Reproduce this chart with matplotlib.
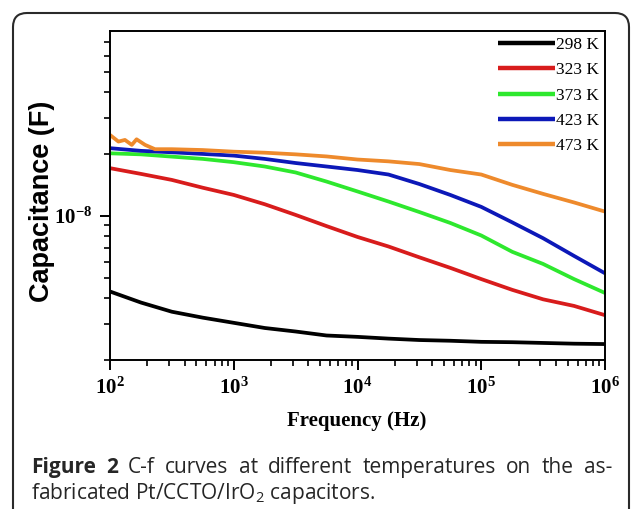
import matplotlib
matplotlib.use("Agg")
import matplotlib.pyplot as plt
from matplotlib.patches import FancyBboxPatch
from matplotlib.transforms import IdentityTransform
from matplotlib.ticker import LogLocator, FuncFormatter, NullFormatter
import numpy as np

# frequency grid (Hz)
freq = [100, 178, 316, 562, 1000, 1780, 3160, 5620, 10000, 17800, 31600,
        56200, 100000, 178000, 316000, 562000, 1000000]

# capacitance (F) for each temperature
cap_298 = [4.30e-9, 3.80e-9, 3.43e-9, 3.21e-9, 3.03e-9, 2.86e-9, 2.75e-9, 2.63e-9, 2.59e-9,
           2.54e-9, 2.50e-9, 2.48e-9, 2.45e-9, 2.44e-9, 2.42e-9, 2.40e-9, 2.39e-9]
cap_323 = [1.706e-8, 1.600e-8, 1.496e-8, 1.371e-8, 1.265e-8, 1.140e-8, 1.012e-8, 8.93e-9, 7.91e-9,
           7.11e-9, 6.30e-9, 5.60e-9, 4.94e-9, 4.38e-9, 3.94e-9, 3.66e-9, 3.30e-9]
cap_373 = [2.014e-8, 1.991e-8, 1.941e-8, 1.892e-8, 1.824e-8, 1.738e-8, 1.626e-8, 1.469e-8, 1.315e-8,
           1.175e-8, 1.045e-8, 9.25e-9, 8.04e-9, 6.70e-9, 5.85e-9, 4.94e-9, 4.23e-9]
cap_423 = [2.133e-8, 2.070e-8, 2.037e-8, 2.000e-8, 1.963e-8, 1.892e-8, 1.807e-8, 1.738e-8, 1.671e-8,
           1.589e-8, 1.429e-8, 1.265e-8, 1.107e-8, 9.31e-9, 7.80e-9, 6.40e-9, 5.27e-9]

# 473 K has some wiggles at low frequency, so its own grid
freq_473 = [100, 117, 132, 150, 164, 192, 231, 316, 562, 1000, 1780, 3160, 5620, 10000,
            17800, 31600, 56200, 100000, 178000, 316000, 562000, 1000000]
cap_473 = [2.472e-8, 2.296e-8, 2.339e-8, 2.213e-8, 2.355e-8, 2.213e-8, 2.109e-8, 2.109e-8,
           2.089e-8, 2.051e-8, 2.028e-8, 1.991e-8, 1.945e-8, 1.879e-8, 1.841e-8, 1.786e-8,
           1.671e-8, 1.589e-8, 1.416e-8, 1.280e-8, 1.163e-8, 1.050e-8]

labels = ["298 K", "323 K", "373 K", "423 K", "473 K"]
colors = ["#000000", "#d81c1c", "#2ee82e", "#0c18b8", "#ee8a2c"]

plt.rcParams['font.family'] = ['Liberation Serif', 'DejaVu Sans']
plt.rcParams['font.weight'] = 'bold'

fig = plt.figure(figsize=(6.33, 5.09), dpi=100)
W, H = 633, 509

ax = fig.add_axes([110 / W, 1 - 360 / H, 495 / W, 329 / H])

series = [(freq, cap_298), (freq, cap_323), (freq, cap_373), (freq, cap_423), (freq_473, cap_473)]
for (f, c), lab, col in zip(series, labels, colors):
    ax.plot(f, c, color=col, lw=2.7, label=lab, solid_capstyle='butt')

ax.set_xscale('log')
ax.set_yscale('log')
ax.set_xlim(1e2, 1e6)
ax.set_ylim(2.0e-9, 7.9e-8)

def sci(v, pos):
    return r'$\mathregular{10^{%d}}$' % int(round(np.log10(v)))

for axis in (ax.xaxis, ax.yaxis):
    axis.set_major_locator(LogLocator(base=10))
    axis.set_minor_locator(LogLocator(base=10, subs=np.arange(2, 10)))
    axis.set_major_formatter(FuncFormatter(sci))
    axis.set_minor_formatter(NullFormatter())

ax.tick_params(which='major', direction='out', length=7, width=1.4, labelsize=15, pad=6)
ax.tick_params(which='minor', direction='out', length=4, width=1.2)
for s in ax.spines.values():
    s.set_linewidth(1.4)

leg = ax.legend(loc='upper right', frameon=False, handlelength=3.3, handletextpad=0.05,
                labelspacing=0.52, borderaxespad=0.15, borderpad=0.2,
                prop={'family': 'Liberation Serif', 'weight': 'normal', 'size': 12.5})
for line in leg.get_lines():
    line.set_linewidth(3.2)

fig.text(357 / W, 1 - 421 / H, "Frequency (Hz)", ha='center', va='center',
         fontsize=15, fontweight='bold', family='Liberation Serif')
fig.text(42 / W, 1 - 201 / H, "Capacitance (F)", ha='center', va='center', rotation=90,
         fontsize=19.5, fontweight='bold', family='Liberation Sans')

# card border
card = FancyBboxPatch((13, -40), 616, 536, boxstyle="round,pad=0,rounding_size=14",
                      transform=IdentityTransform(), fill=False, ec='#2a2a2a', lw=1.5)
fig.add_artist(card)

# caption, first line justified
cap_font = 'Open Sans'
cap_color = '#262626'
cap_size = 15
words = [("Figure", 'bold'), ("2", 'bold'), ("C-f", 'normal'), ("curves", 'normal'),
         ("at", 'normal'), ("different", 'normal'), ("temperatures", 'normal'),
         ("on", 'normal'), ("the", 'normal'), ("as-", 'normal')]
fig.canvas.draw()
renderer = fig.canvas.get_renderer()
x0, x1 = 31, 612
texts = []
widths = []
for w, wt in words:
    t = fig.text(0, 1 - 473 / H, w, fontsize=cap_size, fontweight=wt, family=cap_font,
                 color=cap_color, ha='left', va='baseline')
    widths.append(t.get_window_extent(renderer).width)
    texts.append(t)
gap = (x1 - x0 - sum(widths)) / (len(words) - 1)
x = x0
for t, wd in zip(texts, widths):
    t.set_x(x / W)
    x += wd + gap

fig.text(x0 / W, 1 - 499 / H, r"fabricated Pt/CCTO/IrO$\mathregular{_2}$ capacitors.",
         fontsize=cap_size, fontweight='normal', family=cap_font, color=cap_color,
         ha='left', va='baseline')

fig.savefig("out.png", dpi=100, facecolor='white')
